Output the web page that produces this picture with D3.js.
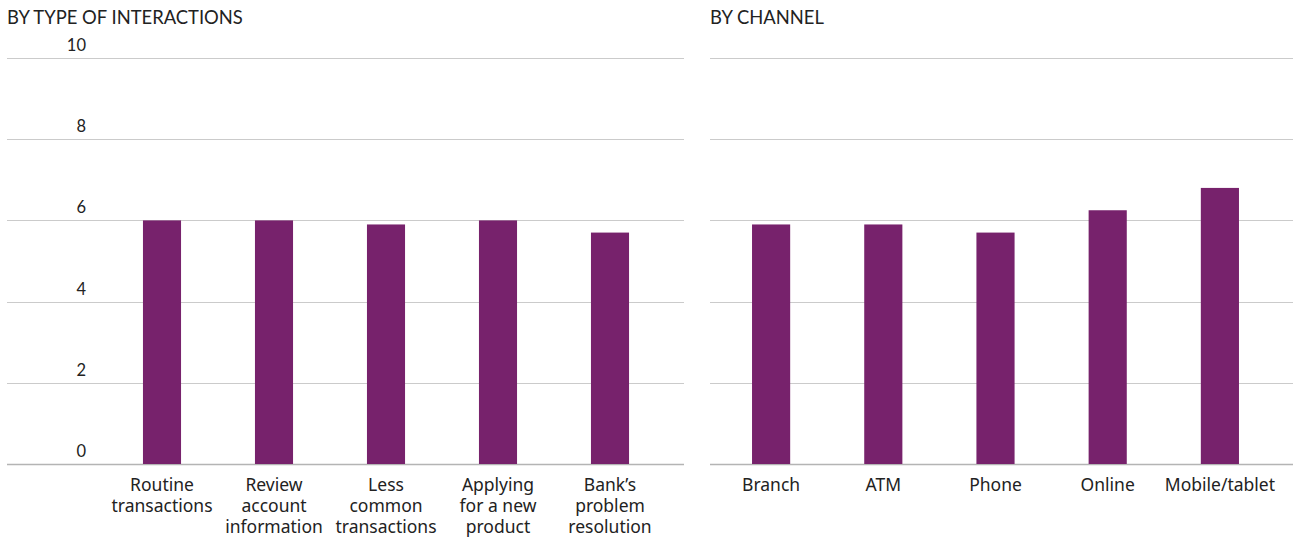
<!DOCTYPE html>
<html>
<head>
<meta charset="utf-8">
<script src="https://cdn.jsdelivr.net/npm/d3@7"></script>
<style>
  html, body { margin: 0; padding: 0; background: #fff; }
  svg { display: block; }
  .title, .tick { font-family: Lato, "Noto Sans", sans-serif; }
  .cat { font-family: "Noto Sans", "Open Sans", sans-serif; }
</style>
</head>
<body>
<svg id="chart" width="1293" height="538"></svg>
<script>
// Average score by type of interaction
const interactionCategories = [
  ["Routine", "transactions"],
  ["Review", "account", "information"],
  ["Less", "common", "transactions"],
  ["Applying", "for a new", "product"],
  ["Bank\u2019s", "problem", "resolution"]
];
const interactionValues = [6.0, 6.0, 5.9, 6.0, 5.7];

// Average score by channel
const channelCategories = [["Branch"], ["ATM"], ["Phone"], ["Online"], ["Mobile/tablet"]];
const channelValues = [5.9, 5.9, 5.7, 6.25, 6.8];

const yTicks = [0, 2, 4, 6, 8, 10];

const barColor = "#77226c";
const gridColor = "#cbcbcb";
const textColor = "#222";

const svg = d3.select("#chart");
const y = d3.scaleLinear().domain([0, 10]).range([464, 58]);

function panel(opts) {
  const g = svg.append("g");

  g.append("text")
    .attr("class", "title")
    .attr("x", opts.gridX0)
    .attr("y", 24)
    .attr("fill", textColor)
    .style("font-size", "18.4px")
    .text(opts.title);

  // horizontal gridlines
  g.selectAll("line.grid")
    .data(yTicks)
    .join("line")
    .attr("class", "grid")
    .attr("x1", opts.gridX0)
    .attr("x2", opts.gridX1)
    .attr("y1", d => Math.round(y(d)) + 0.5)
    .attr("y2", d => Math.round(y(d)) + 0.5)
    .attr("stroke", d => d === 0 ? "#b4b4b4" : gridColor)
    .attr("stroke-width", d => d === 0 ? 1.5 : 1);

  if (opts.showTicks) {
    g.selectAll("text.tick")
      .data(yTicks)
      .join("text")
      .attr("class", "tick")
      .attr("x", 86)
      .attr("y", d => y(d) - 7)
      .attr("text-anchor", "end")
      .attr("fill", textColor)
      .style("font-size", "16.5px")
      .text(d => d);
  }

  const x = d3.scaleBand()
    .domain(d3.range(opts.values.length))
    .range(opts.bandRange)
    .paddingInner(opts.padding)
    .paddingOuter(opts.padding / 2);

  g.selectAll("rect.bar")
    .data(opts.values)
    .join("rect")
    .attr("class", "bar")
    .attr("x", (d, i) => x(i))
    .attr("width", x.bandwidth())
    .attr("y", d => y(d))
    .attr("height", d => y(0) - y(d))
    .attr("fill", barColor);

  // multi-line category labels, one text block per bar
  const labels = g.selectAll("text.cat")
    .data(opts.categories)
    .join("text")
    .attr("class", "cat")
    .attr("text-anchor", "middle")
    .attr("fill", textColor)
    .style("font-size", "17.5px")
    .attr("transform", (d, i) => `translate(${x(i) + x.bandwidth() / 2},491)`);

  labels.selectAll("tspan")
    .data(d => d)
    .join("tspan")
    .attr("x", 0)
    .attr("y", (d, i) => i * 21)
    .text(d => d);
}

panel({
  title: "BY TYPE OF INTERACTIONS",
  gridX0: 7, gridX1: 684,
  bandRange: [106, 666],
  padding: 0.66,
  values: interactionValues,
  categories: interactionCategories,
  showTicks: true
});

panel({
  title: "BY CHANNEL",
  gridX0: 710, gridX1: 1293,
  bandRange: [715, 1276],
  padding: 0.66,
  values: channelValues,
  categories: channelCategories,
  showTicks: false
});
</script>
</body>
</html>
